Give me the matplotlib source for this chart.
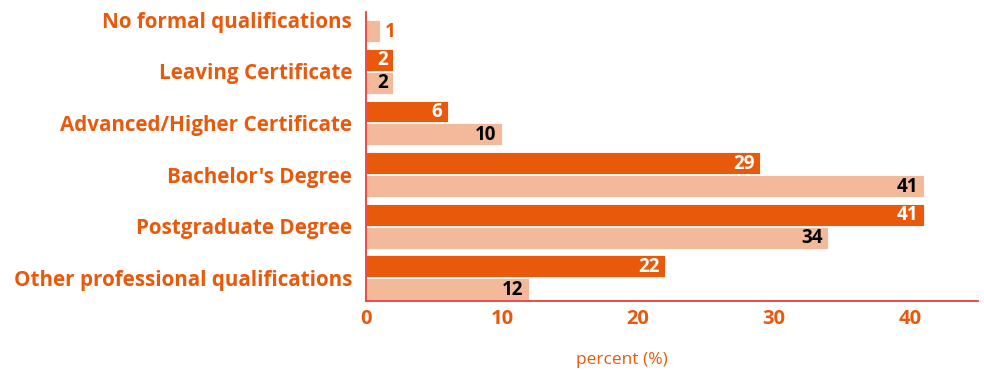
import numpy as np
import matplotlib.pyplot as plt

categories = ["No formal qualifications", "Leaving Certificate",
              "Advanced/Higher Certificate", "Bachelor's Degree",
              "Postgraduate Degree", "Other professional qualifications"]
series_a = [0, 2, 6, 29, 41, 22]
series_b = [1, 2, 10, 41, 34, 12]
xticks = [0, 10, 20, 30, 40]

dark = "#E8590C"
light = "#F2B99B"
axis_red = "#EE3B3B"

plt.rcParams['font.family'] = ['Open Sans', 'DejaVu Sans']

fig = plt.figure(figsize=(9.84, 3.72), dpi=100)
ax = fig.add_axes([366/984, 1 - 301/372, (978-366)/984, (301-12)/372])

y = np.arange(len(categories))
h = 0.425
ax.barh(y - h/2 - 0.01, series_a, height=h, color=dark, edgecolor="white", linewidth=0.6)
ax.barh(y + h/2 + 0.01, series_b, height=h, color=light, edgecolor="white", linewidth=0.6)

for yi, a, b in zip(y, series_a, series_b):
    if a > 0:
        ax.text(a - 0.4, yi - h/2, str(a), ha="right", va="center",
                color="white", fontsize=13.5, fontweight="bold")
    if b >= 2:
        ax.text(b - 0.4, yi + h/2 + 0.02, str(b), ha="right", va="center",
                color="black", fontsize=13.5, fontweight="bold")
    else:
        ax.text(b + 0.4, yi + h/2 + 0.02, str(b), ha="left", va="center",
                color=dark, fontsize=13.5, fontweight="bold")

ax.set_xlim(0, 45)
ax.set_ylim(len(categories) - 1 + 0.45, -0.15)
ax.set_yticks(y)
ax.set_yticklabels(categories, color=dark, fontsize=14.9, fontweight="bold")
ax.set_xticks(xticks)
ax.set_xticklabels([str(t) for t in xticks], color=dark, fontsize=14.5, fontweight="bold")
ax.tick_params(axis="both", length=0)
ax.tick_params(axis="y", pad=10)
ax.tick_params(axis="x", pad=6)
ax.set_xlabel("percent (%)", color=dark, fontsize=12.5)
ax.xaxis.set_label_coords(0.418, -0.175)

for side in ["top", "right"]:
    ax.spines[side].set_visible(False)
for side in ["left", "bottom"]:
    ax.spines[side].set_color(axis_red)
    ax.spines[side].set_linewidth(1.3)

fig.savefig("out.png", dpi=100)
